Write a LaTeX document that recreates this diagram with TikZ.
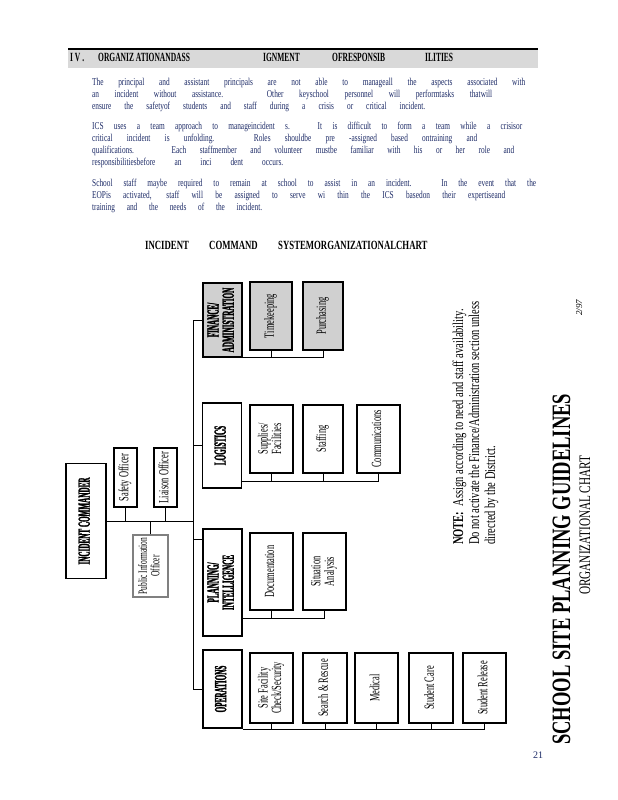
\documentclass[tikz,border=0pt]{standalone}
\usepackage{fontspec}
\setmainfont{Liberation Serif}
\newfontfamily\chartnarrow[FakeStretch=0.42,BoldFeatures={FakeBold=1.5}]{Liberation Serif}
\newfontfamily\chartcond[FakeStretch=0.6]{Liberation Serif}
\newfontfamily\notefont[FakeStretch=0.7]{Liberation Serif}
\usepackage{graphicx}
\usepackage{xcolor}
\definecolor{bandGray}{HTML}{D9D9D9}
\definecolor{finGray}{HTML}{D0D0D0}
\definecolor{textNavy}{HTML}{1C2A66}
\usetikzlibrary{calc}
\newcommand{\rotlabel}[1]{\rotatebox{90}{\begin{tabular}{@{}c@{}}#1\end{tabular}}}

\begin{document}
\begin{tikzpicture}[x=1pt,y=-1pt,
 section/.style={draw,line width=1.1pt,inner sep=0pt,minimum width=39pt,
 font=\chartnarrow\bfseries\fontsize{17}{13}\selectfont},
 unit/.style={draw,line width=1.1pt,inner sep=0pt,minimum width=43pt,
 font=\chartcond\fontsize{14}{13}\selectfont},
 staff/.style={unit,minimum width=23pt,minimum height=59pt},
 finbox/.style={fill=finGray},
 bus/.style={line width=1pt},
 headtext/.style={anchor=base west,inner sep=0pt,font=\chartcond\bfseries\fontsize{12.5}{14}\selectfont},
 bodyline/.style={anchor=base west,inner sep=0pt,text=textNavy,
 font=\notefont\fontsize{10.5}{12}\selectfont},
 charttitle/.style={anchor=base west,inner sep=0pt,font=\notefont\bfseries\fontsize{12.5}{14}\selectfont},
 sidetext/.style={rotate=90,anchor=base west,inner sep=0pt}]
\useasboundingbox (0,0) rectangle (618,800);

% header band
\fill[bandGray] (68,49) rectangle (538,68);
\draw[line width=1.2pt] (68,49) -- (538,49);
\node[headtext] (hdA) at (70,62) {I V .};
\node[headtext] (hdB) at (98,62) {ORGANIZ ATIONANDASS};
\node[headtext] (hdC) at (263,62) {IGNMENT};
\node[headtext] (hdD) at (332,62) {OFRESPONSIB};
\node[headtext] (hdE) at (425,62) {ILITIES};

% paragraphs
\node[bodyline] (pa1) at (92,85) {\makebox[433pt][s]{The principal and assistant principals are not able to manageall the aspects associated with}};
\node[bodyline] (pa2) at (92,97) {\makebox[400pt][s]{an incident without assistance. Other keyschool personnel will performtasks thatwill}};
\node[bodyline] (pa3) at (92,109) {\makebox[333pt][s]{ensure the safetyof students and staff during a crisis or critical incident.}};
\node[bodyline] (pb1) at (92,129) {\makebox[430pt][s]{ICS uses a team approach to manageincident s. It is difficult to form a team while a crisisor}};
\node[bodyline] (pb2) at (92,141) {\makebox[385pt][s]{critical incident is unfolding. Roles shouldbe pre -assigned based ontraining and}};
\node[bodyline] (pb3) at (92,153) {\makebox[422pt][s]{qualifications. Each staffmember and volunteer mustbe familiar with his or her role and}};
\node[bodyline] (pb4) at (92,165) {\makebox[191pt][s]{responsibilitiesbefore an inci dent occurs.}};
\node[bodyline] (pc1) at (92,186) {\makebox[444pt][s]{School staff maybe required to remain at school to assist in an incident. In the event that the}};
\node[bodyline] (pc2) at (92,198) {\makebox[413pt][s]{EOPis activated, staff will be assigned to serve wi thin the ICS basedon their expertiseand}};
\node[bodyline] (pc3) at (92,210) {\makebox[170pt][s]{training and the needs of the incident.}};

% chart title
\node[charttitle] (ttA) at (145,249) {INCIDENT};
\node[charttitle] (ttB) at (209,249) {COMMAND};
\node[charttitle] (ttC) at (278,249) {SYSTEMORGANIZATIONALCHART};

% command staff
\node[section,minimum width=40pt,minimum height=115pt] (ic) at (86,521) {\rotlabel{INCIDENT COMMANDER}};
\node[staff] (safety) at (125.5,477.5) {\rotlabel{Safety Officer}};
\node[staff] (liaison) at (165.5,477.5) {\rotlabel{Liaison Officer}};
\node[unit,draw=gray,minimum width=35pt,minimum height=62pt,
 font=\chartcond\fontsize{12.5}{12}\selectfont] (pio) at (150.5,566) {\rotlabel{Public Information\\Officer}};

% sections
\node[section,finbox,minimum height=74pt] (fin) at (222.5,320) {\rotlabel{FINANCE/\\ADMINISTRATION}};
\node[section,minimum height=85pt] (log) at (222,445.5) {\rotlabel{LOGISTICS}};
\node[section,minimum height=107pt] (plan) at (222.5,582.5) {\rotlabel{PLANNING/\\INTELLIGENCE}};
\node[section,minimum height=78pt] (ops) at (222.5,689) {\rotlabel{OPERATIONS}};

% finance units
\node[unit,finbox,minimum width=42pt,minimum height=68pt] (time) at (271,316) {\rotlabel{Timekeeping}};
\node[unit,finbox,minimum width=40pt,minimum height=68pt] (purch) at (323,316) {\rotlabel{Purchasing}};
% logistics units
\node[unit,minimum height=68pt] (supp) at (271.5,439) {\rotlabel{Supplies/\\Facilities}};
\node[unit,minimum width=40pt,minimum height=68pt] (staffing) at (323,439) {\rotlabel{Staffing}};
\node[unit,minimum height=68pt] (comm) at (378.5,439) {\rotlabel{Communications}};
% planning units
\node[unit,minimum height=77pt] (doc) at (271.5,571.5) {\rotlabel{Documentation}};
\node[unit,minimum height=77pt] (sit) at (324.5,571.5) {\rotlabel{Situation\\Analysis}};
% operations units
\node[unit,minimum height=70pt] (site) at (271.5,688) {\rotlabel{Site Facility\\Check/Security}};
\node[unit,minimum width=44pt,minimum height=70pt] (sar) at (325,688) {\rotlabel{Search \& Rescue}};
\node[unit,minimum height=70pt] (med) at (376.5,688) {\rotlabel{Medical}};
\node[unit,minimum width=44pt,minimum height=70pt] (care) at (431,688) {\rotlabel{Student Care}};
\node[unit,minimum height=70pt] (rel) at (484.5,688) {\rotlabel{Student Release}};

% trunk and links
\coordinate (trunktop) at (193,320);
\coordinate (trunkbot) at (193,689);
\draw[bus] (trunktop) -- (trunkbot);
\draw[bus] (ic.east) -- (ic.east -| trunktop);
\foreach \s in {safety,liaison} \draw[bus] (\s.south) -- (\s.south |- ic.east);
\draw[bus] (pio.north) -- (pio.north |- ic.east);
\draw[bus] (fin.west) -- (fin.west -| trunktop);
\draw[bus] (log.west) -- (log.west -| trunktop);
\draw[bus] ($(plan.north west)+(0,11)$) coordinate (planlink) -- (planlink -| trunktop);
\draw[bus] (ops.west) -- (ops.west -| trunkbot);

% unit buses
\coordinate (finbus) at (fin.south east);
\draw[bus] (finbus) -- (finbus -| purch.south);
\foreach \u in {time,purch} \draw[bus] (\u.south) -- (\u.south |- finbus);
\coordinate (logbus) at ($(log.south east)+(0,-7)$);
\draw[bus] (logbus) -- (logbus -| comm.south);
\foreach \u in {supp,staffing,comm} \draw[bus] (\u.south) -- (\u.south |- logbus);
\coordinate (planbus) at ($(plan.south east)+(0,-18)$);
\draw[bus] (planbus) -- (planbus -| sit.south);
\foreach \u in {doc,sit} \draw[bus] (\u.south) -- (\u.south |- planbus);
\coordinate (opsbus) at ($(ops.south east)+(0,1)$);
\draw[bus] (opsbus) -- (opsbus -| rel.south);
\foreach \u in {site,sar,med,care,rel} \draw[bus] (\u.south) -- (\u.south |- opsbus);

% note and side titles
\node[sidetext,font=\notefont\fontsize{15}{16}\selectfont] (noteA) at (463,545) {\textbf{NOTE:}\ \ Assign according to need and staff availability.};
\node[sidetext,font=\notefont\fontsize{15}{16}\selectfont] (noteB) at (479,545) {Do not activate the Finance/Administration section unless};
\node[sidetext,font=\notefont\fontsize{15}{16}\selectfont] (noteC) at (495,545) {directed by the District.};
\node[sidetext,font=\notefont\bfseries\fontsize{26.5}{28}\selectfont] (guide) at (570,745) {SCHOOL SITE PLANNING GUIDELINES};
\node[sidetext,font=\notefont\fontsize{16}{18}\selectfont] (orgchart) at (590,595) {ORGANIZATIONAL CHART};
\node[sidetext,font=\itshape\fontsize{9}{10}\selectfont] (date) at (582,316) {2/97};
\node[anchor=base west,inner sep=0pt,text=textNavy,font=\fontsize{10}{12}\selectfont] (pagenum) at (533,758) {21};
\end{tikzpicture}
\end{document}
